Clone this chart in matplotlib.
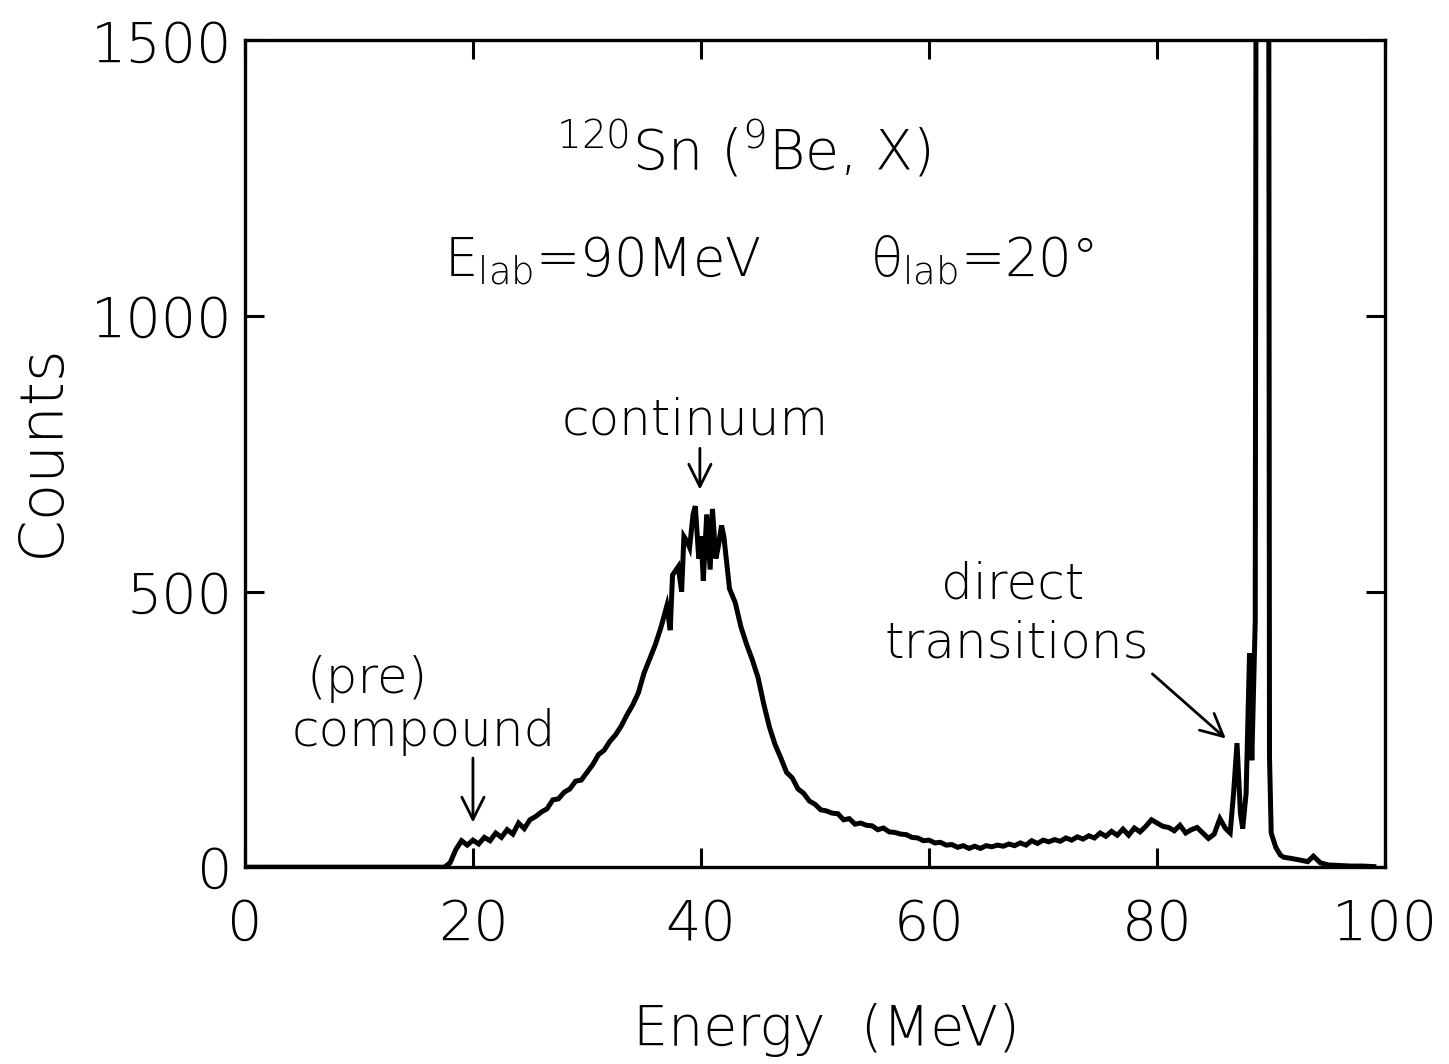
import numpy as np
import matplotlib
matplotlib.use("Agg")
import matplotlib.pyplot as plt

# spectrum (energy in MeV, counts per channel)
energy = [
    0.0, 17.0, 17.5, 18.0, 18.5, 19.0, 19.5, 20.0, 20.5, 21.0, 21.5,
    22.0, 22.5, 23.0, 23.5, 24.0, 24.5, 25.0, 25.5, 26.0, 26.5,
    27.0, 27.5, 28.0, 28.5, 29.0, 29.5, 30.0, 30.5, 31.0, 31.5,
    32.0, 32.5, 33.0, 33.5, 34.0, 34.5, 35.0, 35.5, 36.0, 36.5,
    37.0, 37.3, 37.5, 38.0, 38.3, 38.5, 38.8, 39.0, 39.3, 39.5, 39.8,
    40.0, 40.2, 40.5, 40.8, 41.0, 41.3, 41.5, 41.8, 42.0, 42.5,
    43.0, 43.5, 44.0, 44.5, 45.0, 45.5, 46.0, 46.5, 47.0, 47.5,
    48.0, 48.5, 49.0, 49.5, 50.0, 50.5, 51.0, 51.5, 52.0, 52.5,
    53.0, 53.5, 54.0, 54.5, 55.0, 55.5, 56.0, 56.5, 57.0, 57.5,
    58.0, 58.5, 59.0, 59.5, 60.0, 60.5, 61.0, 61.5, 62.0, 62.5,
    63.0, 63.5, 64.0, 64.5, 65.0, 65.5, 66.0, 66.5, 67.0, 67.5,
    68.0, 68.5, 69.0, 69.5, 70.0, 70.5, 71.0, 71.5, 72.0, 72.5,
    73.0, 73.5, 74.0, 74.5, 75.0, 75.5, 76.0, 76.5, 77.0, 77.5,
    78.0, 78.5, 79.0, 79.5, 80.0, 80.5, 81.0, 81.5, 82.0, 82.5,
    83.0, 83.5, 84.0, 84.5, 85.0, 85.5, 86.0, 86.4, 86.7, 87.0,
    87.3, 87.5, 87.8, 88.0, 88.1, 88.3, 88.4, 88.6, 88.75, 89.0,
    89.4, 89.7, 89.85, 90.0, 90.4, 90.8, 91.1, 91.7, 92.5, 93.2,
    93.7, 94.3, 95.0, 96.0, 97.0, 98.0, 99.0,
]
counts = [
    0, 0, 0, 8, 32, 48, 40, 49, 42, 54, 48,
    62, 54, 68, 60, 80, 70, 86, 92, 100, 106,
    122, 124, 136, 142, 156, 158, 172, 186, 204, 212,
    228, 240, 256, 276, 294, 316, 352, 378, 404, 436,
    474, 430, 530, 545, 500, 600, 590, 580, 640, 655, 560,
    600, 520, 640, 540, 650, 560, 580, 620, 600, 505,
    480, 436, 404, 376, 344, 296, 254, 222, 198, 172,
    162, 142, 134, 120, 114, 104, 102, 98, 97, 86,
    88, 78, 80, 76, 75, 68, 71, 64, 63, 60,
    59, 54, 53, 48, 49, 44, 45, 40, 41, 36,
    39, 34, 38, 34, 39, 37, 40, 38, 42, 39,
    44, 40, 48, 43, 49, 46, 50, 47, 53, 49,
    55, 51, 57, 53, 62, 56, 65, 58, 69, 58,
    71, 64, 74, 86, 80, 74, 72, 66, 76, 62,
    68, 72, 62, 52, 60, 88, 70, 62, 134, 225,
    98, 70, 134, 300, 388, 194, 279, 448, 3000, 3500,
    3500, 3500, 200, 62, 36, 22, 18, 16, 13, 10,
    20, 8, 4, 3, 2, 2, 1,
]

x_ticks = [0, 20, 40, 60, 80, 100]
y_ticks = [0, 500, 1000, 1500]

plt.rcParams["font.family"] = ["DejaVu Sans"]
plt.rcParams["font.weight"] = "light"
plt.rcParams["mathtext.fontset"] = "custom"
plt.rcParams["mathtext.rm"] = "DejaVu Sans:light"
plt.rcParams["mathtext.it"] = "DejaVu Sans:light"

fig = plt.figure(figsize=(14.49, 10.64), dpi=100)
ax = fig.add_axes([0.169, 0.185, 0.787, 0.777])

ax.plot(energy, counts, color="black", lw=3.6, solid_joinstyle="miter")

ax.set_xlim(0, 100)
ax.set_ylim(0, 1500)
ax.set_xticks(x_ticks)
ax.set_yticks(y_ticks)
ax.tick_params(direction="in", length=14, width=2.2, top=True, right=True,
               labelsize=40)
ax.tick_params(axis="x", pad=22)
ax.tick_params(axis="y", pad=9)
for s in ax.spines.values():
    s.set_linewidth(2.4)

fig.text(42 / 1449, 1 - 450 / 1064, "Counts", fontsize=44, rotation=90,
         ha="center", va="center")
fig.text(826 / 1449, 1 - 1045 / 1064, "Energy  (MeV)", fontsize=40,
         ha="center", va="baseline")

ax.text(43.7, 1300, r"$^{120}$Sn ($^{9}$Be, X)", fontsize=40, ha="center", va="center")
ax.text(31.4, 1100, r"E$_{\mathrm{lab}}$=90MeV", fontsize=38, ha="center", va="center")
ax.text(64.6, 1100, r"$\theta_{\mathrm{lab}}$=20°", fontsize=38, ha="center", va="center")

ax.text(39.5, 811, "continuum", fontsize=36, ha="center", va="center")
ax.text(10.7, 342, "(pre)", fontsize=36, ha="center", va="center")
ax.text(15.7, 245, "compound", fontsize=36, ha="center", va="center")
ax.text(67.3, 512, "direct", fontsize=36, ha="center", va="center")
ax.text(67.7, 406, "transitions", fontsize=36, ha="center", va="center")

arrow = dict(arrowstyle="->", color="black", lw=2, mutation_scale=40)
ax.annotate("", xy=(39.9, 680), xytext=(39.9, 765), arrowprops=arrow)
ax.annotate("", xy=(20.0, 76), xytext=(20.0, 203), arrowprops=arrow)
ax.annotate("", xy=(86.2, 230), xytext=(79.4, 354), arrowprops=arrow)

fig.savefig("out.png", dpi=100)
